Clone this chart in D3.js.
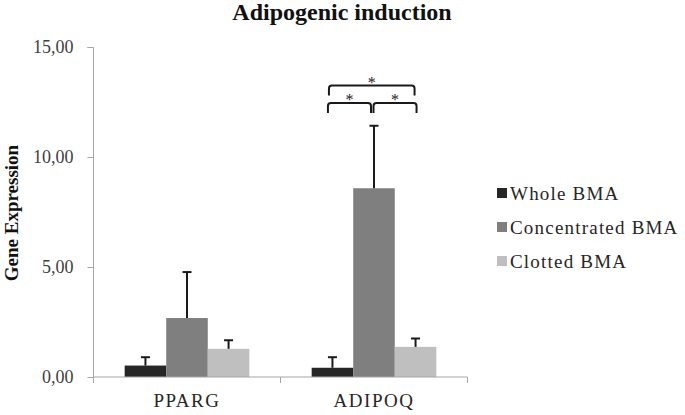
<!DOCTYPE html>
<html>
<head>
<meta charset="utf-8">
<script src="https://cdn.jsdelivr.net/npm/d3@7"></script>
<style>
  body { margin: 0; background: #fff; }
  text { font-family: "Liberation Serif", "Times New Roman", serif; }
</style>
</head>
<body>
<script>
'use strict';
// chart values
const genes = ["PPARG", "ADIPOQ"];
const groups = ["Whole BMA", "Concentrated BMA", "Clotted BMA"];
const groupColors = ["#262626", "#7f7f7f", "#bfbfbf"];
const wholeBMA = [0.52, 0.42];
const concentratedBMA = [2.68, 8.58];
const clottedBMA = [1.28, 1.37];
const wholeErr = [0.38, 0.48];
const concentratedErr = [2.09, 2.84];
const clottedErr = [0.39, 0.38];
const yTicks = [0, 5, 10, 15];

(function() {
    const width = 685, height = 415;
    const svg = d3.select('body').append('svg')
        .attr('width', width)
        .attr('height', height);

    const x0 = d3.scaleBand().domain(genes).range([93.5, 467.5]).paddingInner(0).paddingOuter(0);
    const x1 = d3.scaleBand().domain(groups).range([0, x0.bandwidth()]).paddingOuter(0.75).paddingInner(0);
    const y = d3.scaleLinear().domain([0, 15]).range([377, 47]);

    const values = [wholeBMA, concentratedBMA, clottedBMA];
    const errs = [wholeErr, concentratedErr, clottedErr];
    let rows = [];
    groups.forEach((g, gi) => {
        genes.forEach((gene, i) => {
            rows.push({gene: gene, group: g, gi: gi, value: values[gi][i], err: errs[gi][i]});
        });
    });

    // title
    svg.append('text')
        .attr('x', 342).attr('y', 20)
        .attr('text-anchor', 'middle')
        .style('font-size', '24px').style('font-weight', 'bold')
        .attr('fill', '#111')
        .text('Adipogenic induction');

    // y axis
    const yAxis = d3.axisLeft(y).tickValues(yTicks).tickSize(6).tickPadding(14)
        .tickFormat(d => d3.format('.2f')(d).replace('.', ','));
    const gy = svg.append('g').attr('transform', 'translate(93.5,0)').call(yAxis);
    gy.select('.domain').attr('stroke', '#a6a6a6').attr('d', 'M-6,47.5H0V377');
    gy.selectAll('.tick line').attr('stroke', '#a6a6a6');
    gy.selectAll('.tick text').style('font-size', '18px').attr('fill', '#404040')
        .style('font-family', '"Liberation Serif", serif');

    svg.append('text')
        .attr('transform', 'translate(18,213)rotate(-90)')
        .attr('text-anchor', 'middle')
        .style('font-size', '19px').style('font-weight', 'bold')
        .attr('fill', '#111')
        .text('Gene Expression');

    // bars
    svg.selectAll('.bar').data(rows).enter().append('rect')
        .attr('class', 'bar')
        .attr('x', d => x0(d.gene) + x1(d.group))
        .attr('y', d => y(d.value))
        .attr('width', x1.bandwidth())
        .attr('height', d => y(0) - y(d.value))
        .attr('fill', d => groupColors[d.gi]);

    // error bars (upper only)
    const eb = svg.selectAll('.err').data(rows).enter().append('g').attr('class', 'err');
    eb.append('line')
        .attr('x1', d => x0(d.gene) + x1(d.group) + x1.bandwidth() / 2)
        .attr('x2', d => x0(d.gene) + x1(d.group) + x1.bandwidth() / 2)
        .attr('y1', d => y(d.value))
        .attr('y2', d => y(d.value + d.err))
        .attr('stroke', '#1a1a1a').attr('stroke-width', 2);
    eb.append('line')
        .attr('x1', d => x0(d.gene) + x1(d.group) + x1.bandwidth() / 2 - 4.5)
        .attr('x2', d => x0(d.gene) + x1(d.group) + x1.bandwidth() / 2 + 4.5)
        .attr('y1', d => y(d.value + d.err))
        .attr('y2', d => y(d.value + d.err))
        .attr('stroke', '#1a1a1a').attr('stroke-width', 2);

    // x axis
    svg.append('line')
        .attr('x1', 93.5).attr('x2', 467.5).attr('y1', 377).attr('y2', 377)
        .attr('stroke', '#a6a6a6');
    const seps = [x0(genes[0]), x0(genes[1]), x0(genes[1]) + x0.bandwidth()];
    svg.selectAll('.sep').data(seps).enter().append('line')
        .attr('x1', d => d).attr('x2', d => d).attr('y1', 377).attr('y2', 383)
        .attr('stroke', '#a6a6a6');
    svg.selectAll('.xlab').data(genes).enter().append('text')
        .attr('x', d => x0(d) + x0.bandwidth() / 2)
        .attr('y', 407)
        .attr('text-anchor', 'middle')
        .style('font-size', '19px').style('letter-spacing', '1.5px')
        .attr('fill', '#262626')
        .text(d => d);

    // significance brackets on ADIPOQ
    const cx = g => x0('ADIPOQ') + x1(g) + x1.bandwidth() / 2;
    const brackets = [
        {a: groups[0], b: groups[2], yv: 13.25, off: [-3.5, -1]},
        {a: groups[0], b: groups[1], yv: 12.45, off: [-4.5, -3]},
        {a: groups[1], b: groups[2], yv: 12.45, off: [-0.5, 1]}
    ];
    brackets.forEach(br => {
        const xa = cx(br.a) + br.off[0], xb = cx(br.b) + br.off[1];
        const yy = y(br.yv), r = 3, h = 10;
        svg.append('path')
            .attr('d', `M${xa},${yy + h}V${yy + r}Q${xa},${yy} ${xa + r},${yy}H${xb - r}Q${xb},${yy} ${xb},${yy + r}V${yy + h}`)
            .attr('fill', 'none').attr('stroke', '#1a1a1a').attr('stroke-width', 2);
        svg.append('text')
            .attr('x', (xa + xb) / 2).attr('y', yy + 2)
            .attr('text-anchor', 'middle')
            .style('font-size', '16px').style('fill', '#1a1a1a')
            .text('*');
    });

    // legend
    const leg = svg.selectAll('.leg').data(groups).enter().append('g')
        .attr('transform', (d, i) => `translate(497,${193 + i * 34})`);
    leg.append('rect')
        .attr('x', 0).attr('y', -5).attr('width', 10).attr('height', 10)
        .attr('fill', (d, i) => groupColors[i]);
    leg.append('text')
        .attr('x', 13).attr('y', 6.5)
        .style('font-size', '19px').style('letter-spacing', '1.2px')
        .attr('fill', '#262626')
        .text(d => d);
})();
</script>
</body>
</html>
